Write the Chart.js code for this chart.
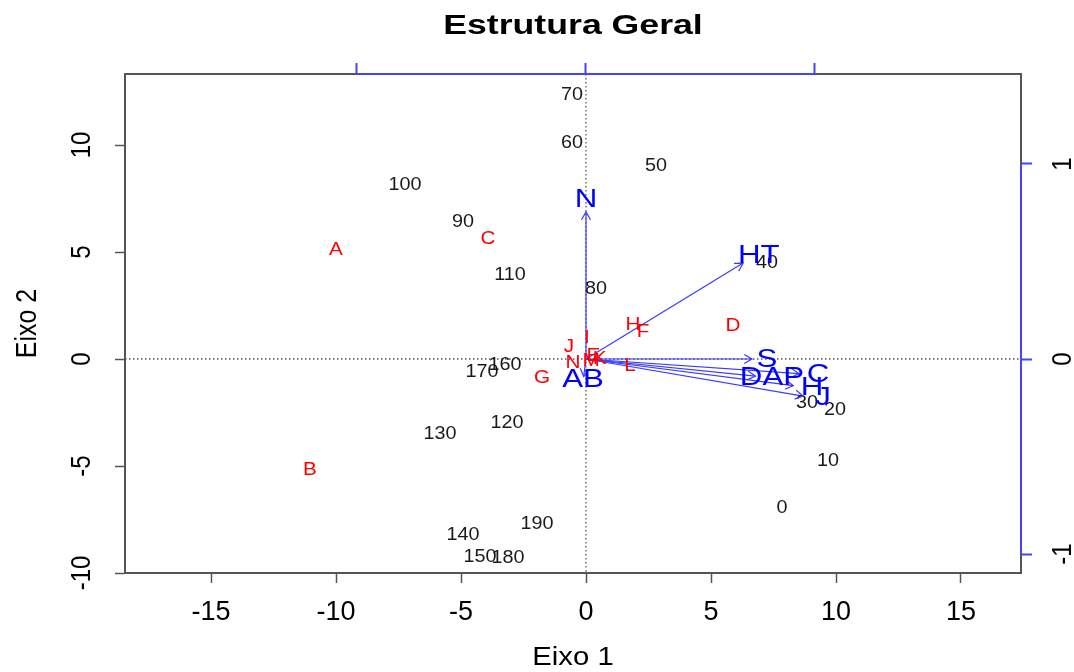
<!DOCTYPE html>
<html><head><meta charset="utf-8">
<script src="https://cdn.jsdelivr.net/npm/chart.js@4/dist/chart.umd.min.js"></script>
<style>html,body{margin:0;padding:0;background:#fff;overflow:hidden}#wrap{width:1074px;height:672px}</style>
</head><body><div id="wrap"><canvas id="c" width="1074" height="672"></canvas></div>
<script>
// ---- text ----
const titleText = "Estrutura Geral";
const xTitle = "Eixo 1";
const yTitle = "Eixo 2";
// ---- tick values ----
const xTicks = [-15, -10, -5, 0, 5, 10, 15];
const yTicks = [-10, -5, 0, 5, 10];
const topTicks = [-1, 0, 1];
const rightTicks = [-1, 0, 1];
// ---- site scores (black) ----
const siteLabels = ["0","10","20","30","40","50","60","70","80","90","100","110","120","130","140","150","160","170","180","190"];
const siteX = [7.84, 9.68, 9.96, 8.84, 7.24, 2.80, -0.56, -0.56, 0.40, -4.92, -7.24, -3.04, -3.16, -5.84, -4.92, -4.24, -3.24, -4.16, -3.12, -1.96];
const siteY = [-6.96, -4.77, -2.38, -2.06, 4.49, 9.02, 10.09, 12.34, 3.27, 6.40, 8.13, 3.93, -2.99, -3.50, -8.22, -9.25, -0.28, -0.61, -9.30, -7.71];
// ---- species scores (red) ----
const specLabels = ["A","B","C","D","E","F","G","H","I","J","K","L","M","N"];
const specX = [-10.00, -11.04, -3.92, 5.88, 0.30, 2.28, -1.76, 1.88, 0.04, -0.68, 0.55, 1.76, 0.20, -0.52];
const specY = [5.09, -5.19, 5.61, 1.54, 0.12, 1.26, -0.89, 1.59, 0.98, 0.56, 0.02, -0.33, -0.08, -0.19];
// ---- environmental vectors (blue, secondary axes) ----
const varLabels = ["N","HT","S","DAP","C","H","J","AB"];
const varTipX = [0.000, 0.686, 0.725, 0.740, 0.930, 0.905, 0.948, -0.010];
const varTipY = [0.754, 0.492, 0.000, -0.088, -0.075, -0.137, -0.190, -0.090];
const varLabX = [0.000, 0.755, 0.790, 0.812, 1.013, 0.987, 1.035, -0.013];
const varLabY = [0.815, 0.528, -0.005, -0.097, -0.082, -0.149, -0.200, -0.108];

const FONT = '"Liberation Sans", Arial, Helvetica, sans-serif';
const BLUE = '#0000ff';

function txt(ctx, s, x, y, o) {
  o = o || {};
  ctx.save();
  ctx.translate(x, y);
  ctx.scale(o.sx || 1, 1);
  if (o.rot) ctx.rotate(o.rot);
  ctx.font = (o.bold ? 'bold ' : '') + (o.size || 18) + 'px ' + FONT;
  ctx.fillStyle = o.color || '#000';
  ctx.textAlign = 'center';
  ctx.textBaseline = 'middle';
  ctx.fillText(s, 0, 0);
  ctx.restore();
}

const datasets = [];
datasets.push({
  label: 'sites', kind: 'sites', xAxisID: 'x', yAxisID: 'y',
  data: siteX.map((v, i) => ({x: v, y: siteY[i]})),
  pointRadius: 0, showLine: false, labels: siteLabels,
  style: {size: 18, color: '#1a1a1a', sx: 1.1}
});
datasets.push({
  label: 'species', kind: 'species', xAxisID: 'x', yAxisID: 'y',
  data: specX.map((v, i) => ({x: v, y: specY[i]})),
  pointRadius: 0, showLine: false, labels: specLabels,
  style: {size: 18, color: '#ff0000', sx: 1.15}
});
varLabels.forEach((n, i) => {
  datasets.push({
    label: 'arrow ' + n, kind: 'arrow', xAxisID: 'x2', yAxisID: 'y2',
    data: [{x: 0, y: 0}, {x: varTipX[i], y: varTipY[i]}],
    showLine: true, pointRadius: 0, borderColor: '#3a3aff', borderWidth: 1.2, fill: false
  });
});
datasets.push({
  label: 'vars', kind: 'vars', xAxisID: 'x2', yAxisID: 'y2',
  data: varLabX.map((v, i) => ({x: v, y: varLabY[i]})),
  pointRadius: 0, showLine: false, labels: varLabels,
  style: {size: 25, color: BLUE, sx: 1.25}
});

const overlay = {
  id: 'overlay',
  beforeDatasetsDraw(chart) {
    const {ctx, chartArea: a, scales} = chart;
    const x0 = scales.x.getPixelForValue(0), y0 = scales.y.getPixelForValue(0);
    ctx.save();
    ctx.strokeStyle = '#555'; ctx.lineWidth = 1.3; ctx.setLineDash([1.5, 2.5]);
    ctx.beginPath();
    ctx.moveTo(a.left, y0); ctx.lineTo(a.right, y0);
    ctx.moveTo(x0, a.top); ctx.lineTo(x0, a.bottom);
    ctx.stroke();
    ctx.restore();
  },
  afterDatasetsDraw(chart) {
    const ctx = chart.ctx;
    chart.data.datasets.forEach((ds, di) => {
      const meta = chart.getDatasetMeta(di);
      if (ds.kind === 'arrow') {
        const p0 = meta.data[0], p1 = meta.data[1];
        const ang = Math.atan2(p1.y - p0.y, p1.x - p0.x);
        const L = 9;
        ctx.save();
        ctx.strokeStyle = ds.borderColor; ctx.lineWidth = 1.2;
        ctx.beginPath();
        ctx.moveTo(p1.x - L * Math.cos(ang - Math.PI / 6), p1.y - L * Math.sin(ang - Math.PI / 6));
        ctx.lineTo(p1.x, p1.y);
        ctx.lineTo(p1.x - L * Math.cos(ang + Math.PI / 6), p1.y - L * Math.sin(ang + Math.PI / 6));
        ctx.stroke();
        ctx.restore();
      } else if (ds.labels) {
        meta.data.forEach((pt, i) => txt(ctx, ds.labels[i], pt.x, pt.y, ds.style));
      }
    });
  },
  afterDraw(chart) {
    const {ctx, chartArea: a, scales} = chart;
    // blue secondary axis lines
    ctx.save();
    ctx.strokeStyle = '#4444ff'; ctx.lineWidth = 2;
    ctx.beginPath();
    ctx.moveTo(scales.x2.getPixelForValue(topTicks[0]), a.top);
    ctx.lineTo(scales.x2.getPixelForValue(topTicks[topTicks.length - 1]), a.top);
    ctx.moveTo(a.right, scales.y2.getPixelForValue(rightTicks[0]));
    ctx.lineTo(a.right, scales.y2.getPixelForValue(rightTicks[rightTicks.length - 1]));
    ctx.stroke();
    ctx.restore();
    // rotated y tick labels
    yTicks.forEach(v => txt(ctx, String(v), 82, scales.y.getPixelForValue(v), {size: 24, sx: 1.17, rot: -Math.PI / 2}));
    rightTicks.forEach(v => txt(ctx, String(v), 1063, scales.y2.getPixelForValue(v), {size: 24, sx: 1.17, rot: -Math.PI / 2}));
    // titles
    txt(ctx, titleText, (a.left + a.right) / 2, 27, {size: 27, bold: true, sx: 1.32});
    txt(ctx, xTitle, (a.left + a.right) / 2, 658, {size: 25, sx: 1.17});
    txt(ctx, yTitle, 28, (a.top + a.bottom) / 2, {size: 25, sx: 1.17, rot: -Math.PI / 2});
  }
};

function fixTicks(list) { return s => { s.ticks = list.map(v => ({value: v})); }; }

new Chart(document.getElementById('c'), {
  type: 'scatter',
  data: {datasets},
  options: {
    responsive: false, animation: false, devicePixelRatio: 1,
    layout: {padding: 0},
    plugins: {legend: {display: false}, tooltip: {enabled: false}, title: {display: false}},
    scales: {
      x: {
        type: 'linear', position: 'bottom', min: -18.44, max: 17.4,
        afterBuildTicks: fixTicks(xTicks),
        afterFit: s => { s.height = 99; },
        ticks: {font: {family: FONT, size: 27}, color: '#000', padding: 13, maxRotation: 0, autoSkip: false},
        grid: {drawOnChartArea: false, drawTicks: true, tickLength: 10, tickColor: '#555', tickWidth: 1.5},
        border: {display: true, color: '#555', width: 2}
      },
      y: {
        type: 'linear', position: 'left', min: -10, max: 13.318,
        afterBuildTicks: fixTicks(yTicks),
        afterFit: s => { s.width = 125; },
        ticks: {display: false},
        grid: {drawOnChartArea: false, drawTicks: true, tickLength: 10, tickColor: '#555', tickWidth: 1.5},
        border: {display: true, color: '#555', width: 2}
      },
      x2: {
        type: 'linear', position: 'top', min: -2.013, max: 1.8996,
        afterBuildTicks: fixTicks(topTicks),
        afterFit: s => { s.height = 74; },
        ticks: {display: false},
        grid: {drawOnChartArea: false, drawTicks: true, tickLength: 11, tickColor: '#4444ff', tickWidth: 2},
        border: {display: true, color: '#555', width: 2}
      },
      y2: {
        type: 'linear', position: 'right', min: -1.0974, max: 1.4615,
        afterBuildTicks: fixTicks(rightTicks),
        afterFit: s => { s.width = 53; },
        ticks: {display: false},
        grid: {drawOnChartArea: false, drawTicks: true, tickLength: 11, tickColor: '#4444ff', tickWidth: 2},
        border: {display: true, color: '#555', width: 2}
      }
    }
  },
  plugins: [overlay]
});
</script></body></html>
